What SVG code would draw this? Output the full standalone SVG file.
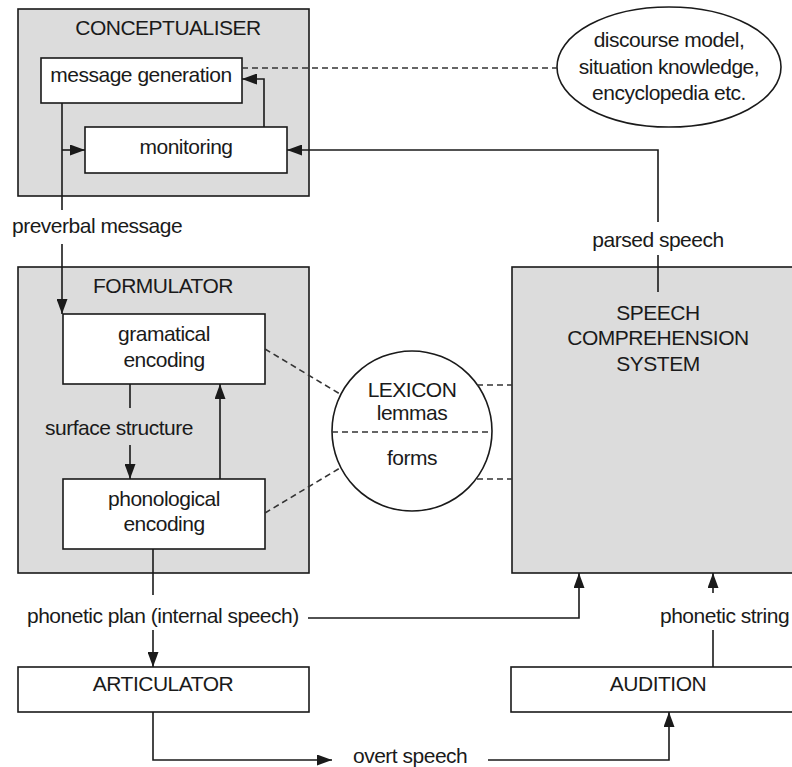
<svg xmlns="http://www.w3.org/2000/svg" width="792" height="767" viewBox="0 0 792 767">
<style>
.bg{fill:#dcdcdc;stroke:#1a1a1a;stroke-width:1.6}
.wb{fill:#ffffff;stroke:#1a1a1a;stroke-width:1.6}
.ln{fill:none;stroke:#1a1a1a;stroke-width:1.6}
.ds{fill:none;stroke:#333;stroke-width:1.6;stroke-dasharray:6 4}
text{font-family:"Liberation Sans",Arial,sans-serif;font-size:21px;letter-spacing:-0.5px;fill:#1a1a1a;text-anchor:middle}
.st{text-anchor:start}
</style>
<defs>
<marker id="ah" viewBox="0 0 15 11" refX="15" refY="5.5" markerWidth="15" markerHeight="11" markerUnits="userSpaceOnUse" orient="auto">
<path d="M0,0 L15,5.5 L0,11 z" fill="#1a1a1a"/>
</marker>
</defs>
<rect width="792" height="767" fill="#ffffff"/>
<g id="conceptualiser">
<rect class="bg" x="18" y="9" width="291" height="187"/>
<text x="168" y="35">CONCEPTUALISER</text>
</g>
<g id="message-generation">
<rect class="wb" x="41" y="58" width="201" height="45"/>
<text x="141" y="82">message generation</text>
</g>
<g id="monitoring">
<rect class="wb" x="85" y="127" width="202" height="46"/>
<text x="186" y="154">monitoring</text>
</g>
<g id="knowledge">
<ellipse class="wb" cx="669" cy="67" rx="112" ry="60"/>
<text x="669" y="47">discourse model,</text>
<text x="669" y="74">situation knowledge,</text>
<text x="669" y="100">encyclopedia etc.</text>
</g>
<g id="formulator">
<rect class="bg" x="18" y="267" width="291" height="306"/>
<text x="163" y="293">FORMULATOR</text>
</g>
<g id="grammatical-encoding">
<rect class="wb" x="63" y="314" width="202" height="70"/>
<text x="164" y="341">gramatical</text>
<text x="164" y="367">encoding</text>
</g>
<g id="phonological-encoding">
<rect class="wb" x="63" y="479" width="202" height="70"/>
<text x="164" y="506">phonological</text>
<text x="164" y="531">encoding</text>
</g>
<g id="speech-comprehension">
<rect class="bg" x="512" y="267" width="300" height="306"/>
<text x="658" y="320">SPEECH</text>
<text x="658" y="345">COMPREHENSION</text>
<text x="658" y="371">SYSTEM</text>
</g>
<g id="lexicon">
<circle class="wb" cx="412" cy="431" r="80"/>
<line class="ds" x1="332" y1="432" x2="492" y2="432"/>
<text x="412" y="397">LEXICON</text>
<text x="412" y="420">lemmas</text>
<text x="412" y="465">forms</text>
</g>
<g id="articulator">
<rect class="wb" x="18" y="667" width="291" height="45"/>
<text x="163" y="691">ARTICULATOR</text>
</g>
<g id="audition">
<rect class="wb" x="511" y="667" width="300" height="45"/>
<text x="658" y="691">AUDITION</text>
</g>
<g id="connectors">
<polyline class="ln" points="62,103 62,210"/>
<polyline class="ln" points="62,244 62,314" marker-end="url(#ah)"/>
<polyline class="ln" points="62,150 85,150" marker-end="url(#ah)"/>
<polyline class="ln" points="264,127 264,79 242,79" marker-end="url(#ah)"/>
<line class="ds" x1="242" y1="68" x2="557" y2="68"/>
<polyline class="ln" points="658,292 658,255"/>
<polyline class="ln" points="658,222 658,150 287,150" marker-end="url(#ah)"/>
<polyline class="ln" points="130,384 130,408"/>
<polyline class="ln" points="130,445 130,479" marker-end="url(#ah)"/>
<polyline class="ln" points="220,479 220,384" marker-end="url(#ah)"/>
<polyline class="ln" points="153,549 153,595"/>
<polyline class="ln" points="153,630 153,667" marker-end="url(#ah)"/>
<polyline class="ln" points="308,618 579,618 579,573" marker-end="url(#ah)"/>
<polyline class="ln" points="153,712 153,760 332,760" marker-end="url(#ah)"/>
<polyline class="ln" points="488,760 669,760 669,712" marker-end="url(#ah)"/>
<polyline class="ln" points="713,667 713,630"/>
<polyline class="ln" points="713,593 713,573" marker-end="url(#ah)"/>
<line class="ds" x1="265" y1="349" x2="340" y2="394"/>
<line class="ds" x1="265" y1="513" x2="340" y2="468"/>
<line class="ds" x1="477" y1="385" x2="512" y2="385"/>
<line class="ds" x1="477" y1="479" x2="512" y2="479"/>
<text class="st" x="12" y="233">preverbal message</text>
<text x="658" y="247">parsed speech</text>
<text class="st" x="45" y="435">surface structure</text>
<text class="st" x="27" y="623">phonetic plan (internal speech)</text>
<text class="st" x="660" y="623">phonetic string</text>
<text class="st" x="353" y="763">overt speech</text>
</g>
</svg>
